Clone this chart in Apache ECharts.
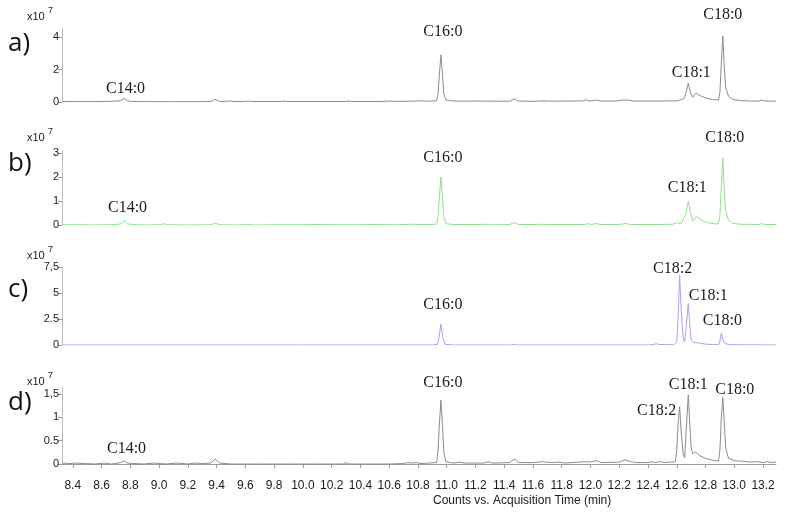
<!DOCTYPE html>
<html><head><meta charset="utf-8">
<script src="https://cdn.jsdelivr.net/npm/echarts/dist/echarts.min.js"></script>
<style>html,body{margin:0;padding:0;background:#fff}#c{width:786px;height:513px}</style>
</head><body><div id="c"></div>
<script>
// ---------- data ----------
const xTicks = [8.4,8.6,8.8,9.0,9.2,9.4,9.6,9.8,10.0,10.2,10.4,10.6,10.8,11.0,11.2,11.4,11.6,11.8,12.0,12.2,12.4,12.6,12.8,13.0,13.2];
const xTitle = 'Counts vs. Acquisition Time (min)';
const panelLetters = ['a)','b)','c)','d)'];
const yScaleText = 'x10';
const yScaleExp = '7';

const yTicksA = [0,2,4],       yLabelsA = ['0','2','4'];
const yTicksB = [0,1,2,3],     yLabelsB = ['0','1','2','3'];
const yTicksC = [0,2.5,5,7.5], yLabelsC = ['0','2.5','5','7,5'];
const yTicksD = [0,0.5,1,1.5], yLabelsD = ['0','0.5','1','1,5'];

const peakNamesA = ['C14:0','C16:0','C18:1','C18:0'];
const peakTimesA = [8.76,10.96,12.68,12.92];
const peakHeightsA = [0.22,2.9,1.15,4.06];
const peakNamesB = ['C14:0','C16:0','C18:1','C18:0'];
const peakTimesB = [8.76,10.96,12.68,12.92];
const peakHeightsB = [0.2,2.0,1.0,2.8];
const peakNamesC = ['C16:0','C18:2','C18:1','C18:0'];
const peakTimesC = [10.96,12.62,12.68,12.91];
const peakHeightsC = [2.0,6.7,4.0,1.15];
const peakNamesD = ['C14:0','C16:0','C18:2','C18:1','C18:0'];
const peakTimesD = [8.76,10.96,12.62,12.68,12.92];
const peakHeightsD = [0.07,1.37,1.23,1.48,1.43];

// traces: [time (min), counts x10^7]
const traceA = [[8.33,0.03],[8.45,0.02],[8.58,0.03],[8.66,0.04],[8.70,0.06],[8.73,0.08],[8.76,0.22],[8.78,0.08],[8.81,0.03],[8.95,0.02],[9.10,0.02],[9.25,0.02],[9.36,0.03],[9.39,0.17],[9.42,0.04],[9.46,0.03],[9.49,0.07],[9.52,0.03],[9.60,0.03],[9.62,0.06],[9.64,0.03],[9.85,0.03],[9.87,0.07],[9.89,0.03],[10.30,0.03],[10.32,0.06],[10.34,0.03],[10.55,0.03],[10.60,0.06],[10.65,0.04],[10.75,0.05],[10.82,0.07],[10.88,0.05],[10.93,0.08],[10.94,0.5],[10.95,1.8],[10.96,2.9],[10.97,1.8],[10.98,0.5],[10.995,0.12],[11.02,0.08],[11.10,0.05],[11.20,0.06],[11.30,0.05],[11.44,0.05],[11.47,0.18],[11.50,0.06],[11.60,0.04],[11.67,0.07],[11.75,0.05],[11.85,0.06],[11.95,0.07],[11.97,0.14],[11.99,0.06],[12.04,0.12],[12.07,0.06],[12.18,0.06],[12.22,0.12],[12.26,0.12],[12.30,0.06],[12.45,0.06],[12.60,0.07],[12.65,0.2],[12.665,0.6],[12.68,1.15],[12.695,0.6],[12.71,0.3],[12.735,0.55],[12.76,0.4],[12.80,0.25],[12.85,0.15],[12.89,0.12],[12.90,0.6],[12.91,2.4],[12.92,4.06],[12.93,2.2],[12.94,0.9],[12.96,0.35],[12.99,0.15],[13.05,0.08],[13.12,0.06],[13.17,0.06],[13.19,0.12],[13.21,0.06],[13.29,0.05]];
const traceB = [[8.33,0.01],[8.45,0.01],[8.55,0.0],[8.62,0.01],[8.70,0.02],[8.74,0.05],[8.76,0.2],[8.78,0.05],[8.81,0.02],[8.90,0.0],[9.0,0.01],[9.03,0.05],[9.06,0.01],[9.20,0.0],[9.36,0.01],[9.39,0.08],[9.42,0.01],[9.55,0.0],[9.62,0.03],[9.65,0.0],[9.85,0.01],[9.88,0.03],[9.92,0.01],[10.10,0.02],[10.30,0.01],[10.50,0.02],[10.65,0.01],[10.75,0.03],[10.85,0.02],[10.93,0.03],[10.94,0.35],[10.95,1.2],[10.96,2.0],[10.97,1.2],[10.98,0.35],[10.995,0.05],[11.05,0.02],[11.20,0.02],[11.28,0.03],[11.32,0.01],[11.44,0.02],[11.47,0.1],[11.50,0.02],[11.62,0.02],[11.66,0.03],[11.72,0.02],[11.96,0.02],[11.98,0.06],[12.00,0.02],[12.04,0.06],[12.07,0.02],[12.20,0.02],[12.24,0.06],[12.28,0.02],[12.45,0.02],[12.57,0.03],[12.60,0.1],[12.63,0.05],[12.665,0.5],[12.68,1.0],[12.695,0.5],[12.71,0.15],[12.735,0.35],[12.76,0.25],[12.80,0.12],[12.86,0.05],[12.89,0.05],[12.90,0.4],[12.91,1.6],[12.92,2.8],[12.93,1.5],[12.94,0.6],[12.96,0.2],[12.99,0.06],[13.05,0.03],[13.17,0.02],[13.19,0.06],[13.21,0.02],[13.29,0.02]];
const traceC = [[8.33,0.0],[9.0,0.0],[10.0,0.0],[10.90,0.0],[10.935,0.05],[10.945,0.6],[10.96,2.0],[10.975,0.6],[10.99,0.05],[11.05,0.0],[11.45,0.0],[11.47,0.08],[11.49,0.0],[12.40,0.0],[12.44,0.06],[12.46,0.12],[12.48,0.05],[12.58,0.02],[12.60,0.3],[12.61,2.8],[12.62,6.7],[12.63,3.5],[12.645,0.6],[12.655,0.3],[12.665,1.6],[12.68,4.0],[12.69,2.0],[12.70,0.5],[12.72,0.25],[12.75,0.2],[12.79,0.1],[12.85,0.04],[12.89,0.04],[12.90,0.4],[12.91,1.15],[12.92,0.5],[12.935,0.15],[12.96,0.05],[13.0,0.02],[13.29,0.0]];
const traceD = [[8.33,0.02],[8.38,0.01],[8.42,0.02],[8.48,0.01],[8.55,0.0],[8.62,0.02],[8.66,0.0],[8.70,0.01],[8.73,0.03],[8.755,0.07],[8.78,0.02],[8.82,0.01],[8.90,0.0],[8.96,0.02],[9.00,0.01],[9.05,0.0],[9.12,0.02],[9.20,0.0],[9.25,0.02],[9.30,0.01],[9.36,0.02],[9.39,0.11],[9.42,0.02],[9.50,0.0],[9.70,0.0],[9.90,0.0],[10.10,0.0],[10.28,0.0],[10.30,0.03],[10.32,0.0],[10.60,0.0],[10.70,0.01],[10.73,0.03],[10.76,0.02],[10.79,0.03],[10.82,0.01],[10.93,0.03],[10.94,0.3],[10.95,0.9],[10.96,1.37],[10.97,0.85],[10.98,0.25],[10.995,0.05],[11.05,0.02],[11.09,0.04],[11.12,0.02],[11.26,0.02],[11.29,0.05],[11.32,0.02],[11.44,0.03],[11.47,0.11],[11.50,0.03],[11.60,0.03],[11.66,0.05],[11.72,0.03],[11.78,0.04],[11.82,0.02],[11.96,0.05],[11.99,0.04],[12.04,0.07],[12.08,0.03],[12.20,0.04],[12.24,0.09],[12.28,0.05],[12.32,0.03],[12.40,0.03],[12.42,0.05],[12.45,0.03],[12.48,0.05],[12.52,0.03],[12.59,0.05],[12.60,0.3],[12.61,0.9],[12.62,1.23],[12.63,0.7],[12.645,0.2],[12.655,0.13],[12.665,0.7],[12.68,1.48],[12.69,0.9],[12.70,0.35],[12.71,0.22],[12.73,0.26],[12.76,0.18],[12.80,0.12],[12.85,0.08],[12.89,0.06],[12.90,0.3],[12.91,1.0],[12.92,1.43],[12.93,0.9],[12.94,0.35],[12.96,0.12],[13.00,0.07],[13.05,0.06],[13.12,0.04],[13.16,0.05],[13.20,0.03],[13.23,0.05],[13.26,0.03],[13.29,0.04]];

// ---------- layout / style ----------
const X_MIN = 8.325, X_MAX = 13.29;
const panels = [
  {top:29,    height:73,   max:4.5,  color:'#8c8c8c', ticks:yTicksA, labels:yLabelsA, trace:traceA, names:peakNamesA, times:peakTimesA, heights:peakHeightsA,
   offsets:[[1,-10],[2,-23],[3,-11],[0,-21]], letterY:44, scaleY:17},
  {top:150.6, height:74.4, max:3.1,  color:'#8fe08f', ticks:yTicksB, labels:yLabelsB, trace:traceB, names:peakNamesB, times:peakTimesB, heights:peakHeightsB,
   offsets:[[3,-12],[2,-19],[-1,-13],[2,-20]], letterY:164, scaleY:138},
  {top:267,   height:78,   max:7.5,  color:'#a3a3f0', ticks:yTicksC, labels:yLabelsC, trace:traceC, names:peakNamesC, times:peakTimesC, heights:peakHeightsC,
   offsets:[[2,-19],[-7,-7],[20,-8],[1,-12]], letterY:290, scaleY:256},
  {top:387,   height:77,   max:1.65, color:'#8c8c8c', ticks:yTicksD, labels:yLabelsD, trace:traceD, names:peakNamesD, times:peakTimesD, heights:peakHeightsD,
   offsets:[[2,-12],[2,-17],[-23,4],[0,-10],[12,-7]], letterY:403, scaleY:382}
];

const grid = [], xAxis = [], yAxis = [], series = [], graphic = [];
panels.forEach((p, i) => {
  const last = i === panels.length - 1;
  grid.push({left:62, right:10, top:p.top, height:p.height});
  xAxis.push({
    type:'value', gridIndex:i, min:X_MIN, max:X_MAX, show:last,
    offset: last ? 7 : 0,
    axisLine:{show:true, lineStyle:{color:'#9a9a9a', width:1}},
    axisTick:{show:true, length:4, customValues:xTicks, lineStyle:{color:'#9a9a9a'}},
    axisLabel:{show:true, customValues:xTicks, margin:9, fontSize:12, color:'#1a1a1a', fontFamily:'Liberation Sans, Arial',
      formatter:v => v.toFixed(1)},
    splitLine:{show:false}
  });
  yAxis.push({
    type:'value', gridIndex:i, min:0, max:p.max,
    axisLine:{show:true, lineStyle:{color:'#bdbdbd', width:1}},
    axisTick:{show:true, length:4, customValues:p.ticks, lineStyle:{color:'#9a9a9a'}},
    axisLabel:{show:true, customValues:p.ticks, margin:3, fontSize:11, color:'#1a1a1a', fontFamily:'Liberation Sans, Arial',
      formatter:v => { const k = p.ticks.findIndex(t => Math.abs(t - v) < 1e-9); return k >= 0 ? p.labels[k] : ''; }},
    splitLine:{show:false}
  });
  series.push({
    type:'line', xAxisIndex:i, yAxisIndex:i, data:p.trace, showSymbol:false, symbol:'none',
    lineStyle:{color:p.color, width:1}, silent:true, z:3,
    markPoint:{
      symbol:'circle', symbolSize:0, silent:true, itemStyle:{color:'rgba(0,0,0,0)'},
      data:p.names.map((n, k) => ({
        name:n, coord:[p.times[k], p.heights[k]],
        label:{show:true, position:'inside', offset:p.offsets[k], formatter:n,
          fontFamily:'Liberation Serif, Times New Roman, serif', fontSize:16, color:'#1a1a1a'}
      }))
    }
  });
  graphic.push({type:'text', left:8, top:p.letterY - 13, style:{text:panelLetters[i], fontSize:26, fontFamily:'Open Sans, Lato, sans-serif', fill:'#111'}});
  graphic.push({type:'text', left:27, top:p.scaleY - 6, style:{text:yScaleText, fontSize:11, fontFamily:'Liberation Sans, Arial', fill:'#1a1a1a'}});
  graphic.push({type:'text', left:48, top:p.scaleY - 11, style:{text:yScaleExp, fontSize:9, fontFamily:'Liberation Sans, Arial', fill:'#1a1a1a'}});
});
graphic.push({type:'text', left:433, top:495, style:{text:xTitle, fontSize:12, fontFamily:'Liberation Sans, Arial', fill:'#1a1a1a'}});

const chart = echarts.init(document.getElementById('c'), null, {renderer:'canvas'});
chart.setOption({animation:false, backgroundColor:'#fff', grid, xAxis, yAxis, series, graphic});
</script></body></html>
